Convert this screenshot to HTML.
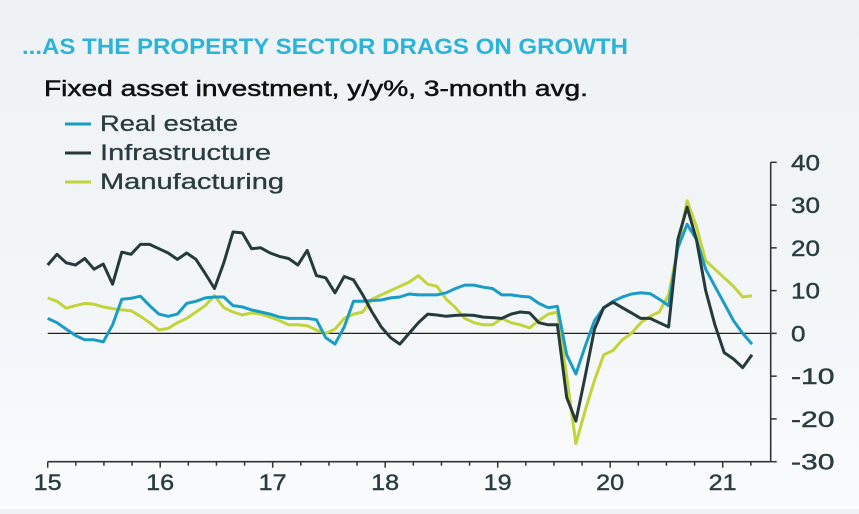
<!DOCTYPE html>
<html><head><meta charset="utf-8"><style>
html,body{margin:0;padding:0}
body{width:859px;height:509px;overflow:hidden;background:linear-gradient(#eef2f5,#f3f6f8 60%,#fafbfc);font-family:"Liberation Sans",sans-serif}
</style></head><body>
<svg id="chart" width="859" height="509" xmlns="http://www.w3.org/2000/svg" font-family="Liberation Sans, sans-serif">
<text x="22" y="54" font-size="22" font-weight="bold" fill="#2bb4d8" textLength="606" lengthAdjust="spacingAndGlyphs">...AS THE PROPERTY SECTOR DRAGS ON GROWTH</text>
<text x="44" y="96" font-size="22" fill="#111" stroke="#111" stroke-width="0.5" textLength="544" lengthAdjust="spacingAndGlyphs">Fixed asset investment, y/y%, 3-month avg.</text>
<g>
<g><line x1="65" y1="124" x2="91" y2="124" stroke="#1a9cc4" stroke-width="3"/><text x="100" y="131" font-size="22" fill="#2a3c40" stroke="#2a3c40" stroke-width="0.3" textLength="138" lengthAdjust="spacingAndGlyphs">Real estate</text></g>
<g><line x1="65" y1="153" x2="91" y2="153" stroke="#263a3c" stroke-width="3"/><text x="100" y="160" font-size="22" fill="#2a3c40" stroke="#2a3c40" stroke-width="0.3" textLength="171" lengthAdjust="spacingAndGlyphs">Infrastructure</text></g>
<g><line x1="65" y1="182" x2="91" y2="182" stroke="#c2d43a" stroke-width="3"/><text x="100" y="189" font-size="22" fill="#2a3c40" stroke="#2a3c40" stroke-width="0.3" textLength="184" lengthAdjust="spacingAndGlyphs">Manufacturing</text></g>
</g>
<g id="axes"></g>
<g id="series"></g>
</svg>
<script>
const yTicks=[40,30,20,10,0,-10,-20,-30];
const xTickLabels=["15","16","17","18","19","20","21"];
const realEstate=[3.5,2.5,1,-0.5,-1.5,-1.5,-2,2,8,8.2,8.7,6.5,4.5,4,4.5,7,7.5,8.3,8.5,8.5,6.5,6.2,5.5,5,4.5,3.8,3.5,3.5,3.5,3.2,-1,-2.5,1.5,7.5,7.5,7.7,7.8,8.3,8.5,9.2,9,9,9,9.5,10.5,11.3,11.3,10.8,10.5,9,9,8.7,8.5,7,6,6.3,-5,-9.5,-3,3,6,7.5,8.5,9.2,9.5,9.3,8,6.5,20,25.5,22,15,11,7,3,0,-2.5];
const infrastructure=[16,18.5,16.5,16,17.5,15,16.2,11.5,19,18.5,20.8,20.8,19.8,18.8,17.3,18.8,17.3,14,10.5,16.5,23.7,23.5,19.8,20,18.8,18,17.5,16,19.4,13.5,13,9.5,13.3,12.5,9,5,1.5,-1,-2.5,0,2.5,4.5,4.3,4,4.2,4.3,4.2,3.8,3.7,3.5,4.5,5,4.8,2.5,2,2,-15,-20.5,-10,1,6,7.3,6,4.8,3.5,3.5,2.5,1.5,22,29.5,22,10,2,-4.5,-6,-8,-5];
const manufacturing=[8.3,7.5,5.9,6.5,7,6.8,6.2,5.8,5.5,5.3,4,2.5,0.8,1.2,2.5,3.5,5,6.5,8.8,6,5,4.3,4.8,4.5,3.8,3,2,2,1.8,0.8,0,1,3.5,4.5,5,8,9,10,11,12,13.5,11.5,11,8,6,3.5,2.5,2,2,3.5,2.5,2,1.3,3,4.5,5,-10,-25.8,-18,-11,-5,-4,-1.5,0,2.5,4,5,9,20,31,25,17,15,13,11,8.5,8.8];
const NS="http://www.w3.org/2000/svg";
const axX=770.7, y0=162.3, y1=461.7, vmax=40, vmin=-30;
const yS=v=>y0+(vmax-v)*(y1-y0)/(vmax-vmin);
const xYear=i=>47.7+i*112.5;
const xD=i=>47.7+i*(752-47.7)/(realEstate.length-1);
const axes=document.getElementById('axes'), ser=document.getElementById('series');
function mk(tag,attrs,parent){const e=document.createElementNS(NS,tag);for(const k in attrs)e.setAttribute(k,attrs[k]);parent.appendChild(e);return e;}
const za=mk('line',{x1:47.7,x2:axX,y1:yS(0),y2:yS(0),stroke:'#222','stroke-width':1.3},axes);


const ya=mk('line',{x1:axX,x2:axX,y1:y0,y2:y1,stroke:'#333','stroke-width':1.6},axes);


const xa=mk('line',{x1:47.7,x2:axX,y1:y1,y2:y1,stroke:'#333','stroke-width':1.6},axes);


yTicks.forEach(v=>{
 const t=mk('line',{x1:axX,x2:axX+6,y1:yS(v),y2:yS(v),stroke:'#333','stroke-width':1.5},axes);
 
 
 const s=String(v);
 const l=mk('text',{x:791,y:yS(v)+8,'font-size':22,fill:'#2a3c40',stroke:'#2a3c40','stroke-width':0.4,textLength:s.length*14.5,lengthAdjust:'spacingAndGlyphs'},axes);
 l.textContent=s;
 
 
});
for(let q=0;q<=25;q++){
 const x=xYear(q/4), major=q%4===0;
 const t=mk('line',{x1:x,x2:x,y1:y1,y2:y1+(major?6:4),stroke:'#333','stroke-width':1.5},axes);
 
 
}
xTickLabels.forEach((s,i)=>{
 const l=mk('text',{x:xYear(i)-14,y:490,'font-size':22,fill:'#2a3c40',stroke:'#2a3c40','stroke-width':0.4,textLength:28,lengthAdjust:'spacingAndGlyphs'},axes);
 l.textContent=s;
 
 
});
function line(data,color,name){
 const d=data.map((v,i)=>(i?'L':'M')+xD(i).toFixed(1)+' '+yS(v).toFixed(1)).join(' ');
 const p=mk('path',{d:d,fill:'none',stroke:color,'stroke-width':3,'stroke-linejoin':'round'},ser);
 
 
}
line(manufacturing,'#c2d43a','manufacturing-line');
line(realEstate,'#1a9cc4','real-estate-line');
line(infrastructure,'#263a3c','infrastructure-line');
</script>
</body></html>
